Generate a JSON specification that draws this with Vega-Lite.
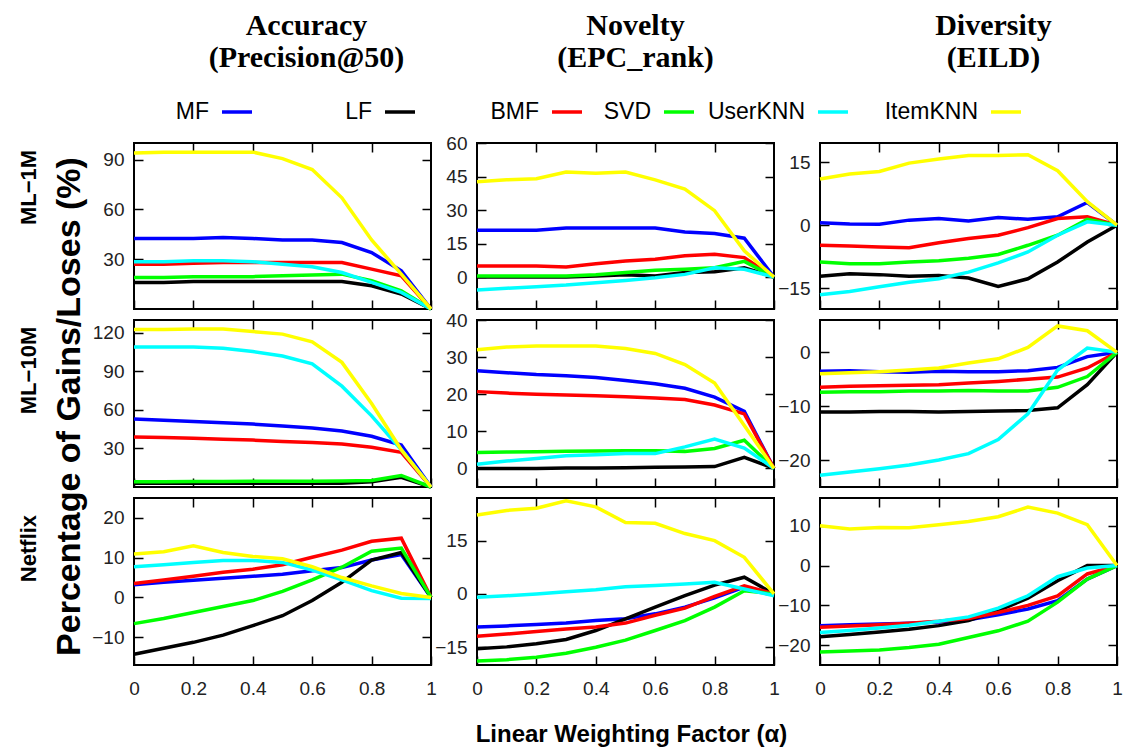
{
"$schema": "https://vega.github.io/schema/vega-lite/v6.json",
"background": "white",
"padding": {"left": 16, "top": 11, "right": 5, "bottom": 5},
"config": {
 "view": {"stroke": "#000", "strokeWidth": 2},
 "axis": {"domain": false, "grid": false, "tickSize": -9, "tickWidth": 1.5, "tickColor": "#000", "labelFont": "Liberation Sans", "labelFontSize": 19, "labelColor": "#222", "titleFont": "Liberation Sans", "titleFontWeight": "bold", "titleColor": "#000"},
 "axisX": {"labelPadding": 23},
 "axisY": {"labelPadding": 19},
 "title": {"font": "Liberation Serif", "fontSize": 30, "fontWeight": "bold", "color": "#000"}
},
"datasets": {
 "leg1": [{"s":"MF"},{"s":"LF"}],
 "leg2": [{"s":"BMF"},{"s":"SVD"}],
 "leg3": [{"s":"UserKNN"},{"s":"ItemKNN"}],
 "a1": [
{"s":"MF","x":0,"y":42.5},{"s":"MF","x":0.1,"y":42.5},{"s":"MF","x":0.2,"y":42.5},{"s":"MF","x":0.3,"y":43},{"s":"MF","x":0.4,"y":42.5},{"s":"MF","x":0.5,"y":41.5},{"s":"MF","x":0.6,"y":41.5},{"s":"MF","x":0.7,"y":40},{"s":"MF","x":0.8,"y":34},{"s":"MF","x":0.9,"y":23},{"s":"MF","x":1,"y":0},
{"s":"LF","x":0,"y":16},{"s":"LF","x":0.1,"y":16},{"s":"LF","x":0.2,"y":16.5},{"s":"LF","x":0.3,"y":16.5},{"s":"LF","x":0.4,"y":16.5},{"s":"LF","x":0.5,"y":16.5},{"s":"LF","x":0.6,"y":16.5},{"s":"LF","x":0.7,"y":16.5},{"s":"LF","x":0.8,"y":14},{"s":"LF","x":0.9,"y":9},{"s":"LF","x":1,"y":0},
{"s":"BMF","x":0,"y":27},{"s":"BMF","x":0.1,"y":27},{"s":"BMF","x":0.2,"y":27.5},{"s":"BMF","x":0.3,"y":28},{"s":"BMF","x":0.4,"y":28},{"s":"BMF","x":0.5,"y":28},{"s":"BMF","x":0.6,"y":28},{"s":"BMF","x":0.7,"y":28},{"s":"BMF","x":0.8,"y":24},{"s":"BMF","x":0.9,"y":20},{"s":"BMF","x":1,"y":0},
{"s":"SVD","x":0,"y":19},{"s":"SVD","x":0.1,"y":19},{"s":"SVD","x":0.2,"y":19.5},{"s":"SVD","x":0.3,"y":19.5},{"s":"SVD","x":0.4,"y":19.5},{"s":"SVD","x":0.5,"y":20},{"s":"SVD","x":0.6,"y":20.5},{"s":"SVD","x":0.7,"y":21},{"s":"SVD","x":0.8,"y":17},{"s":"SVD","x":0.9,"y":11},{"s":"SVD","x":1,"y":0},
{"s":"UserKNN","x":0,"y":28.5},{"s":"UserKNN","x":0.1,"y":28.5},{"s":"UserKNN","x":0.2,"y":29},{"s":"UserKNN","x":0.3,"y":29},{"s":"UserKNN","x":0.4,"y":28.5},{"s":"UserKNN","x":0.5,"y":27},{"s":"UserKNN","x":0.6,"y":25.5},{"s":"UserKNN","x":0.7,"y":22},{"s":"UserKNN","x":0.8,"y":16},{"s":"UserKNN","x":0.9,"y":10},{"s":"UserKNN","x":1,"y":0},
{"s":"ItemKNN","x":0,"y":94},{"s":"ItemKNN","x":0.1,"y":94.5},{"s":"ItemKNN","x":0.2,"y":94.5},{"s":"ItemKNN","x":0.3,"y":94.5},{"s":"ItemKNN","x":0.4,"y":94.5},{"s":"ItemKNN","x":0.5,"y":90.6},{"s":"ItemKNN","x":0.6,"y":84},{"s":"ItemKNN","x":0.7,"y":67},{"s":"ItemKNN","x":0.8,"y":41.6},{"s":"ItemKNN","x":0.9,"y":21},{"s":"ItemKNN","x":1,"y":0}
 ],
 "n1": [
{"s":"MF","x":0,"y":21},{"s":"MF","x":0.1,"y":21},{"s":"MF","x":0.2,"y":21},{"s":"MF","x":0.3,"y":22},{"s":"MF","x":0.4,"y":22},{"s":"MF","x":0.5,"y":22},{"s":"MF","x":0.6,"y":22},{"s":"MF","x":0.7,"y":20.2},{"s":"MF","x":0.8,"y":19.5},{"s":"MF","x":0.9,"y":17.4},{"s":"MF","x":1,"y":0},
{"s":"LF","x":0,"y":0},{"s":"LF","x":0.1,"y":0},{"s":"LF","x":0.2,"y":0},{"s":"LF","x":0.3,"y":0},{"s":"LF","x":0.4,"y":0.5},{"s":"LF","x":0.5,"y":1},{"s":"LF","x":0.6,"y":0.5},{"s":"LF","x":0.7,"y":2},{"s":"LF","x":0.8,"y":2.4},{"s":"LF","x":0.9,"y":4.2},{"s":"LF","x":1,"y":0},
{"s":"BMF","x":0,"y":5},{"s":"BMF","x":0.1,"y":5},{"s":"BMF","x":0.2,"y":5},{"s":"BMF","x":0.3,"y":4.5},{"s":"BMF","x":0.4,"y":6},{"s":"BMF","x":0.5,"y":7.2},{"s":"BMF","x":0.6,"y":8},{"s":"BMF","x":0.7,"y":9.5},{"s":"BMF","x":0.8,"y":10.2},{"s":"BMF","x":0.9,"y":8.7},{"s":"BMF","x":1,"y":0},
{"s":"SVD","x":0,"y":0.5},{"s":"SVD","x":0.1,"y":0.5},{"s":"SVD","x":0.2,"y":0.5},{"s":"SVD","x":0.3,"y":0.5},{"s":"SVD","x":0.4,"y":1},{"s":"SVD","x":0.5,"y":2},{"s":"SVD","x":0.6,"y":3},{"s":"SVD","x":0.7,"y":3.5},{"s":"SVD","x":0.8,"y":4.2},{"s":"SVD","x":0.9,"y":7},{"s":"SVD","x":1,"y":0},
{"s":"UserKNN","x":0,"y":-5.8},{"s":"UserKNN","x":0.1,"y":-5},{"s":"UserKNN","x":0.2,"y":-4.3},{"s":"UserKNN","x":0.3,"y":-3.6},{"s":"UserKNN","x":0.4,"y":-2.5},{"s":"UserKNN","x":0.5,"y":-1.5},{"s":"UserKNN","x":0.6,"y":-0.3},{"s":"UserKNN","x":0.7,"y":1.2},{"s":"UserKNN","x":0.8,"y":4.2},{"s":"UserKNN","x":0.9,"y":3.5},{"s":"UserKNN","x":1,"y":0},
{"s":"ItemKNN","x":0,"y":42.7},{"s":"ItemKNN","x":0.1,"y":43.5},{"s":"ItemKNN","x":0.2,"y":44},{"s":"ItemKNN","x":0.3,"y":47},{"s":"ItemKNN","x":0.4,"y":46.5},{"s":"ItemKNN","x":0.5,"y":47},{"s":"ItemKNN","x":0.6,"y":43.5},{"s":"ItemKNN","x":0.7,"y":39.4},{"s":"ItemKNN","x":0.8,"y":29.7},{"s":"ItemKNN","x":0.9,"y":11.7},{"s":"ItemKNN","x":1,"y":0}
 ],
 "d1": [
{"s":"MF","x":0,"y":0.6},{"s":"MF","x":0.1,"y":0.3},{"s":"MF","x":0.2,"y":0.2},{"s":"MF","x":0.3,"y":1.2},{"s":"MF","x":0.4,"y":1.6},{"s":"MF","x":0.5,"y":1},{"s":"MF","x":0.6,"y":1.8},{"s":"MF","x":0.7,"y":1.4},{"s":"MF","x":0.8,"y":2},{"s":"MF","x":0.9,"y":5.4},{"s":"MF","x":1,"y":0},
{"s":"LF","x":0,"y":-12.2},{"s":"LF","x":0.1,"y":-11.6},{"s":"LF","x":0.2,"y":-11.8},{"s":"LF","x":0.3,"y":-12.2},{"s":"LF","x":0.4,"y":-12},{"s":"LF","x":0.5,"y":-12.6},{"s":"LF","x":0.6,"y":-14.6},{"s":"LF","x":0.7,"y":-12.8},{"s":"LF","x":0.8,"y":-8.8},{"s":"LF","x":0.9,"y":-4},{"s":"LF","x":1,"y":0},
{"s":"BMF","x":0,"y":-4.8},{"s":"BMF","x":0.1,"y":-5},{"s":"BMF","x":0.2,"y":-5.2},{"s":"BMF","x":0.3,"y":-5.4},{"s":"BMF","x":0.4,"y":-4.2},{"s":"BMF","x":0.5,"y":-3.2},{"s":"BMF","x":0.6,"y":-2.4},{"s":"BMF","x":0.7,"y":-0.6},{"s":"BMF","x":0.8,"y":1.6},{"s":"BMF","x":0.9,"y":2},{"s":"BMF","x":1,"y":0},
{"s":"SVD","x":0,"y":-8.8},{"s":"SVD","x":0.1,"y":-9.2},{"s":"SVD","x":0.2,"y":-9.2},{"s":"SVD","x":0.3,"y":-8.8},{"s":"SVD","x":0.4,"y":-8.5},{"s":"SVD","x":0.5,"y":-7.9},{"s":"SVD","x":0.6,"y":-7},{"s":"SVD","x":0.7,"y":-4.8},{"s":"SVD","x":0.8,"y":-2.4},{"s":"SVD","x":0.9,"y":1.4},{"s":"SVD","x":1,"y":0},
{"s":"UserKNN","x":0,"y":-16.6},{"s":"UserKNN","x":0.1,"y":-15.8},{"s":"UserKNN","x":0.2,"y":-14.7},{"s":"UserKNN","x":0.3,"y":-13.6},{"s":"UserKNN","x":0.4,"y":-12.8},{"s":"UserKNN","x":0.5,"y":-11.2},{"s":"UserKNN","x":0.6,"y":-9},{"s":"UserKNN","x":0.7,"y":-6.4},{"s":"UserKNN","x":0.8,"y":-2.4},{"s":"UserKNN","x":0.9,"y":0.8},{"s":"UserKNN","x":1,"y":0},
{"s":"ItemKNN","x":0,"y":11},{"s":"ItemKNN","x":0.1,"y":12.2},{"s":"ItemKNN","x":0.2,"y":12.8},{"s":"ItemKNN","x":0.3,"y":14.8},{"s":"ItemKNN","x":0.4,"y":15.8},{"s":"ItemKNN","x":0.5,"y":16.6},{"s":"ItemKNN","x":0.6,"y":16.6},{"s":"ItemKNN","x":0.7,"y":16.8},{"s":"ItemKNN","x":0.8,"y":13},{"s":"ItemKNN","x":0.9,"y":5.6},{"s":"ItemKNN","x":1,"y":0}
 ],
 "a10": [
{"s":"MF","x":0,"y":53},{"s":"MF","x":0.1,"y":52},{"s":"MF","x":0.2,"y":51},{"s":"MF","x":0.3,"y":50},{"s":"MF","x":0.4,"y":49},{"s":"MF","x":0.5,"y":47.5},{"s":"MF","x":0.6,"y":46},{"s":"MF","x":0.7,"y":43.6},{"s":"MF","x":0.8,"y":39.5},{"s":"MF","x":0.9,"y":32.6},{"s":"MF","x":1,"y":0},
{"s":"LF","x":0,"y":3},{"s":"LF","x":0.1,"y":3},{"s":"LF","x":0.2,"y":3},{"s":"LF","x":0.3,"y":3},{"s":"LF","x":0.4,"y":3},{"s":"LF","x":0.5,"y":3},{"s":"LF","x":0.6,"y":3},{"s":"LF","x":0.7,"y":3},{"s":"LF","x":0.8,"y":4},{"s":"LF","x":0.9,"y":7.5},{"s":"LF","x":1,"y":0},
{"s":"BMF","x":0,"y":39},{"s":"BMF","x":0.1,"y":38.5},{"s":"BMF","x":0.2,"y":38},{"s":"BMF","x":0.3,"y":37.2},{"s":"BMF","x":0.4,"y":36.5},{"s":"BMF","x":0.5,"y":35.5},{"s":"BMF","x":0.6,"y":34.6},{"s":"BMF","x":0.7,"y":33.5},{"s":"BMF","x":0.8,"y":31},{"s":"BMF","x":0.9,"y":27},{"s":"BMF","x":1,"y":0},
{"s":"SVD","x":0,"y":4},{"s":"SVD","x":0.1,"y":4},{"s":"SVD","x":0.2,"y":4.2},{"s":"SVD","x":0.3,"y":4.3},{"s":"SVD","x":0.4,"y":4.5},{"s":"SVD","x":0.5,"y":4.5},{"s":"SVD","x":0.6,"y":4.5},{"s":"SVD","x":0.7,"y":4.6},{"s":"SVD","x":0.8,"y":5},{"s":"SVD","x":0.9,"y":9},{"s":"SVD","x":1,"y":0},
{"s":"UserKNN","x":0,"y":109},{"s":"UserKNN","x":0.1,"y":109},{"s":"UserKNN","x":0.2,"y":109},{"s":"UserKNN","x":0.3,"y":108},{"s":"UserKNN","x":0.4,"y":105.4},{"s":"UserKNN","x":0.5,"y":102},{"s":"UserKNN","x":0.6,"y":95.8},{"s":"UserKNN","x":0.7,"y":78.5},{"s":"UserKNN","x":0.8,"y":55.4},{"s":"UserKNN","x":0.9,"y":29},{"s":"UserKNN","x":1,"y":0},
{"s":"ItemKNN","x":0,"y":122.6},{"s":"ItemKNN","x":0.1,"y":122.6},{"s":"ItemKNN","x":0.2,"y":123},{"s":"ItemKNN","x":0.3,"y":123},{"s":"ItemKNN","x":0.4,"y":121},{"s":"ItemKNN","x":0.5,"y":119},{"s":"ItemKNN","x":0.6,"y":113},{"s":"ItemKNN","x":0.7,"y":97},{"s":"ItemKNN","x":0.8,"y":65},{"s":"ItemKNN","x":0.9,"y":29},{"s":"ItemKNN","x":1,"y":0}
 ],
 "n10": [
{"s":"MF","x":0,"y":26.3},{"s":"MF","x":0.1,"y":25.8},{"s":"MF","x":0.2,"y":25.3},{"s":"MF","x":0.3,"y":25},{"s":"MF","x":0.4,"y":24.5},{"s":"MF","x":0.5,"y":23.7},{"s":"MF","x":0.6,"y":22.8},{"s":"MF","x":0.7,"y":21.6},{"s":"MF","x":0.8,"y":19.2},{"s":"MF","x":0.9,"y":15.4},{"s":"MF","x":1,"y":0},
{"s":"LF","x":0,"y":0},{"s":"LF","x":0.1,"y":0},{"s":"LF","x":0.2,"y":0},{"s":"LF","x":0.3,"y":0.1},{"s":"LF","x":0.4,"y":0.1},{"s":"LF","x":0.5,"y":0.2},{"s":"LF","x":0.6,"y":0.3},{"s":"LF","x":0.7,"y":0.4},{"s":"LF","x":0.8,"y":0.5},{"s":"LF","x":0.9,"y":3},{"s":"LF","x":1,"y":0},
{"s":"BMF","x":0,"y":20.7},{"s":"BMF","x":0.1,"y":20.3},{"s":"BMF","x":0.2,"y":20},{"s":"BMF","x":0.3,"y":19.8},{"s":"BMF","x":0.4,"y":19.6},{"s":"BMF","x":0.5,"y":19.3},{"s":"BMF","x":0.6,"y":19},{"s":"BMF","x":0.7,"y":18.6},{"s":"BMF","x":0.8,"y":17.1},{"s":"BMF","x":0.9,"y":14.7},{"s":"BMF","x":1,"y":0},
{"s":"SVD","x":0,"y":4.3},{"s":"SVD","x":0.1,"y":4.4},{"s":"SVD","x":0.2,"y":4.5},{"s":"SVD","x":0.3,"y":4.6},{"s":"SVD","x":0.4,"y":4.7},{"s":"SVD","x":0.5,"y":4.8},{"s":"SVD","x":0.6,"y":4.8},{"s":"SVD","x":0.7,"y":4.6},{"s":"SVD","x":0.8,"y":5.4},{"s":"SVD","x":0.9,"y":7.6},{"s":"SVD","x":1,"y":0},
{"s":"UserKNN","x":0,"y":1.1},{"s":"UserKNN","x":0.1,"y":2},{"s":"UserKNN","x":0.2,"y":2.7},{"s":"UserKNN","x":0.3,"y":3.4},{"s":"UserKNN","x":0.4,"y":3.7},{"s":"UserKNN","x":0.5,"y":4},{"s":"UserKNN","x":0.6,"y":4},{"s":"UserKNN","x":0.7,"y":5.8},{"s":"UserKNN","x":0.8,"y":7.9},{"s":"UserKNN","x":0.9,"y":5.5},{"s":"UserKNN","x":1,"y":0},
{"s":"ItemKNN","x":0,"y":32},{"s":"ItemKNN","x":0.1,"y":32.7},{"s":"ItemKNN","x":0.2,"y":33},{"s":"ItemKNN","x":0.3,"y":33},{"s":"ItemKNN","x":0.4,"y":33},{"s":"ItemKNN","x":0.5,"y":32.3},{"s":"ItemKNN","x":0.6,"y":31},{"s":"ItemKNN","x":0.7,"y":28},{"s":"ItemKNN","x":0.8,"y":23},{"s":"ItemKNN","x":0.9,"y":11.6},{"s":"ItemKNN","x":1,"y":0}
 ],
 "d10": [
{"s":"MF","x":0,"y":-3.5},{"s":"MF","x":0.1,"y":-3.4},{"s":"MF","x":0.2,"y":-3.6},{"s":"MF","x":0.3,"y":-3.7},{"s":"MF","x":0.4,"y":-3.5},{"s":"MF","x":0.5,"y":-3.6},{"s":"MF","x":0.6,"y":-3.6},{"s":"MF","x":0.7,"y":-3.4},{"s":"MF","x":0.8,"y":-2.8},{"s":"MF","x":0.9,"y":-0.8},{"s":"MF","x":1,"y":0},
{"s":"LF","x":0,"y":-11.1},{"s":"LF","x":0.1,"y":-11.1},{"s":"LF","x":0.2,"y":-11},{"s":"LF","x":0.3,"y":-11},{"s":"LF","x":0.4,"y":-11.1},{"s":"LF","x":0.5,"y":-11},{"s":"LF","x":0.6,"y":-10.9},{"s":"LF","x":0.7,"y":-10.8},{"s":"LF","x":0.8,"y":-10.3},{"s":"LF","x":0.9,"y":-6},{"s":"LF","x":1,"y":0},
{"s":"BMF","x":0,"y":-6.5},{"s":"BMF","x":0.1,"y":-6.3},{"s":"BMF","x":0.2,"y":-6.2},{"s":"BMF","x":0.3,"y":-6.1},{"s":"BMF","x":0.4,"y":-6},{"s":"BMF","x":0.5,"y":-5.7},{"s":"BMF","x":0.6,"y":-5.4},{"s":"BMF","x":0.7,"y":-5},{"s":"BMF","x":0.8,"y":-4.6},{"s":"BMF","x":0.9,"y":-2.9},{"s":"BMF","x":1,"y":0},
{"s":"SVD","x":0,"y":-7.4},{"s":"SVD","x":0.1,"y":-7.3},{"s":"SVD","x":0.2,"y":-7.3},{"s":"SVD","x":0.3,"y":-7.2},{"s":"SVD","x":0.4,"y":-7.2},{"s":"SVD","x":0.5,"y":-7.1},{"s":"SVD","x":0.6,"y":-7.2},{"s":"SVD","x":0.7,"y":-7.2},{"s":"SVD","x":0.8,"y":-6.5},{"s":"SVD","x":0.9,"y":-4.5},{"s":"SVD","x":1,"y":0},
{"s":"UserKNN","x":0,"y":-22.8},{"s":"UserKNN","x":0.1,"y":-22.2},{"s":"UserKNN","x":0.2,"y":-21.6},{"s":"UserKNN","x":0.3,"y":-20.9},{"s":"UserKNN","x":0.4,"y":-20},{"s":"UserKNN","x":0.5,"y":-18.8},{"s":"UserKNN","x":0.6,"y":-16.2},{"s":"UserKNN","x":0.7,"y":-11.4},{"s":"UserKNN","x":0.8,"y":-3.3},{"s":"UserKNN","x":0.9,"y":0.8},{"s":"UserKNN","x":1,"y":0},
{"s":"ItemKNN","x":0,"y":-4},{"s":"ItemKNN","x":0.1,"y":-3.8},{"s":"ItemKNN","x":0.2,"y":-3.6},{"s":"ItemKNN","x":0.3,"y":-3.3},{"s":"ItemKNN","x":0.4,"y":-2.9},{"s":"ItemKNN","x":0.5,"y":-2},{"s":"ItemKNN","x":0.6,"y":-1.2},{"s":"ItemKNN","x":0.7,"y":0.9},{"s":"ItemKNN","x":0.8,"y":4.9},{"s":"ItemKNN","x":0.9,"y":4},{"s":"ItemKNN","x":1,"y":0}
 ],
 "an": [
{"s":"MF","x":0,"y":3.2},{"s":"MF","x":0.1,"y":3.8},{"s":"MF","x":0.2,"y":4.3},{"s":"MF","x":0.3,"y":4.8},{"s":"MF","x":0.4,"y":5.3},{"s":"MF","x":0.5,"y":5.8},{"s":"MF","x":0.6,"y":6.7},{"s":"MF","x":0.7,"y":7.5},{"s":"MF","x":0.8,"y":9.4},{"s":"MF","x":0.9,"y":10.8},{"s":"MF","x":1,"y":0},
{"s":"LF","x":0,"y":-14.3},{"s":"LF","x":0.1,"y":-12.8},{"s":"LF","x":0.2,"y":-11.3},{"s":"LF","x":0.3,"y":-9.5},{"s":"LF","x":0.4,"y":-7.1},{"s":"LF","x":0.5,"y":-4.6},{"s":"LF","x":0.6,"y":-0.8},{"s":"LF","x":0.7,"y":3.8},{"s":"LF","x":0.8,"y":9.4},{"s":"LF","x":0.9,"y":11.3},{"s":"LF","x":1,"y":0},
{"s":"BMF","x":0,"y":3.5},{"s":"BMF","x":0.1,"y":4.4},{"s":"BMF","x":0.2,"y":5.3},{"s":"BMF","x":0.3,"y":6.3},{"s":"BMF","x":0.4,"y":7.1},{"s":"BMF","x":0.5,"y":8.2},{"s":"BMF","x":0.6,"y":10.1},{"s":"BMF","x":0.7,"y":11.9},{"s":"BMF","x":0.8,"y":14.1},{"s":"BMF","x":0.9,"y":14.9},{"s":"BMF","x":1,"y":0},
{"s":"SVD","x":0,"y":-6.6},{"s":"SVD","x":0.1,"y":-5.3},{"s":"SVD","x":0.2,"y":-3.8},{"s":"SVD","x":0.3,"y":-2.3},{"s":"SVD","x":0.4,"y":-0.8},{"s":"SVD","x":0.5,"y":1.5},{"s":"SVD","x":0.6,"y":4.4},{"s":"SVD","x":0.7,"y":7.6},{"s":"SVD","x":0.8,"y":11.6},{"s":"SVD","x":0.9,"y":12.4},{"s":"SVD","x":1,"y":0},
{"s":"UserKNN","x":0,"y":7.7},{"s":"UserKNN","x":0.1,"y":8.2},{"s":"UserKNN","x":0.2,"y":8.8},{"s":"UserKNN","x":0.3,"y":9.3},{"s":"UserKNN","x":0.4,"y":9.3},{"s":"UserKNN","x":0.5,"y":8.8},{"s":"UserKNN","x":0.6,"y":6.9},{"s":"UserKNN","x":0.7,"y":4.4},{"s":"UserKNN","x":0.8,"y":1.7},{"s":"UserKNN","x":0.9,"y":-0.2},{"s":"UserKNN","x":1,"y":-0.3},
{"s":"ItemKNN","x":0,"y":10.9},{"s":"ItemKNN","x":0.1,"y":11.5},{"s":"ItemKNN","x":0.2,"y":13},{"s":"ItemKNN","x":0.3,"y":11.3},{"s":"ItemKNN","x":0.4,"y":10.3},{"s":"ItemKNN","x":0.5,"y":9.7},{"s":"ItemKNN","x":0.6,"y":7.7},{"s":"ItemKNN","x":0.7,"y":5},{"s":"ItemKNN","x":0.8,"y":2.9},{"s":"ItemKNN","x":0.9,"y":1},{"s":"ItemKNN","x":1,"y":0}
 ],
 "nn": [
{"s":"MF","x":0,"y":-9.3},{"s":"MF","x":0.1,"y":-9},{"s":"MF","x":0.2,"y":-8.6},{"s":"MF","x":0.3,"y":-8.2},{"s":"MF","x":0.4,"y":-7.5},{"s":"MF","x":0.5,"y":-7},{"s":"MF","x":0.6,"y":-5.6},{"s":"MF","x":0.7,"y":-3.7},{"s":"MF","x":0.8,"y":-1.1},{"s":"MF","x":0.9,"y":1.9},{"s":"MF","x":1,"y":0},
{"s":"LF","x":0,"y":-15.4},{"s":"LF","x":0.1,"y":-14.9},{"s":"LF","x":0.2,"y":-14},{"s":"LF","x":0.3,"y":-12.8},{"s":"LF","x":0.4,"y":-10.3},{"s":"LF","x":0.5,"y":-7},{"s":"LF","x":0.6,"y":-3.7},{"s":"LF","x":0.7,"y":-0.5},{"s":"LF","x":0.8,"y":2.5},{"s":"LF","x":0.9,"y":4.7},{"s":"LF","x":1,"y":0},
{"s":"BMF","x":0,"y":-11.9},{"s":"BMF","x":0.1,"y":-11.3},{"s":"BMF","x":0.2,"y":-10.6},{"s":"BMF","x":0.3,"y":-9.9},{"s":"BMF","x":0.4,"y":-9.3},{"s":"BMF","x":0.5,"y":-8.2},{"s":"BMF","x":0.6,"y":-6},{"s":"BMF","x":0.7,"y":-4},{"s":"BMF","x":0.8,"y":-0.7},{"s":"BMF","x":0.9,"y":2.3},{"s":"BMF","x":1,"y":0},
{"s":"SVD","x":0,"y":-18.9},{"s":"SVD","x":0.1,"y":-18.5},{"s":"SVD","x":0.2,"y":-17.8},{"s":"SVD","x":0.3,"y":-16.7},{"s":"SVD","x":0.4,"y":-15},{"s":"SVD","x":0.5,"y":-13},{"s":"SVD","x":0.6,"y":-10.3},{"s":"SVD","x":0.7,"y":-7.5},{"s":"SVD","x":0.8,"y":-3.7},{"s":"SVD","x":0.9,"y":0.9},{"s":"SVD","x":1,"y":0},
{"s":"UserKNN","x":0,"y":-0.9},{"s":"UserKNN","x":0.1,"y":-0.5},{"s":"UserKNN","x":0.2,"y":0},{"s":"UserKNN","x":0.3,"y":0.6},{"s":"UserKNN","x":0.4,"y":1.2},{"s":"UserKNN","x":0.5,"y":2},{"s":"UserKNN","x":0.6,"y":2.4},{"s":"UserKNN","x":0.7,"y":2.8},{"s":"UserKNN","x":0.8,"y":3.3},{"s":"UserKNN","x":0.9,"y":1.4},{"s":"UserKNN","x":1,"y":-0.5},
{"s":"ItemKNN","x":0,"y":22.2},{"s":"ItemKNN","x":0.1,"y":23.5},{"s":"ItemKNN","x":0.2,"y":24.1},{"s":"ItemKNN","x":0.3,"y":26.2},{"s":"ItemKNN","x":0.4,"y":24.5},{"s":"ItemKNN","x":0.5,"y":20.1},{"s":"ItemKNN","x":0.6,"y":19.9},{"s":"ItemKNN","x":0.7,"y":17},{"s":"ItemKNN","x":0.8,"y":15},{"s":"ItemKNN","x":0.9,"y":10.3},{"s":"ItemKNN","x":1,"y":0}
 ],
 "dn": [
{"s":"MF","x":0,"y":-15.1},{"s":"MF","x":0.1,"y":-14.9},{"s":"MF","x":0.2,"y":-14.7},{"s":"MF","x":0.3,"y":-14.5},{"s":"MF","x":0.4,"y":-14.2},{"s":"MF","x":0.5,"y":-13.6},{"s":"MF","x":0.6,"y":-12.4},{"s":"MF","x":0.7,"y":-10.9},{"s":"MF","x":0.8,"y":-8.8},{"s":"MF","x":0.9,"y":-3.4},{"s":"MF","x":1,"y":0},
{"s":"LF","x":0,"y":-17.9},{"s":"LF","x":0.1,"y":-17.3},{"s":"LF","x":0.2,"y":-16.7},{"s":"LF","x":0.3,"y":-16},{"s":"LF","x":0.4,"y":-15.1},{"s":"LF","x":0.5,"y":-13.8},{"s":"LF","x":0.6,"y":-11.3},{"s":"LF","x":0.7,"y":-8.2},{"s":"LF","x":0.8,"y":-3.8},{"s":"LF","x":0.9,"y":0},{"s":"LF","x":1,"y":0},
{"s":"BMF","x":0,"y":-15.5},{"s":"BMF","x":0.1,"y":-15.2},{"s":"BMF","x":0.2,"y":-14.9},{"s":"BMF","x":0.3,"y":-14.5},{"s":"BMF","x":0.4,"y":-14},{"s":"BMF","x":0.5,"y":-13.3},{"s":"BMF","x":0.6,"y":-11.8},{"s":"BMF","x":0.7,"y":-10},{"s":"BMF","x":0.8,"y":-7.6},{"s":"BMF","x":0.9,"y":-2.1},{"s":"BMF","x":1,"y":0},
{"s":"SVD","x":0,"y":-21.7},{"s":"SVD","x":0.1,"y":-21.5},{"s":"SVD","x":0.2,"y":-21.2},{"s":"SVD","x":0.3,"y":-20.6},{"s":"SVD","x":0.4,"y":-19.8},{"s":"SVD","x":0.5,"y":-18.1},{"s":"SVD","x":0.6,"y":-16.4},{"s":"SVD","x":0.7,"y":-14},{"s":"SVD","x":0.8,"y":-9.2},{"s":"SVD","x":0.9,"y":-3.4},{"s":"SVD","x":1,"y":0},
{"s":"UserKNN","x":0,"y":-16.8},{"s":"UserKNN","x":0.1,"y":-16.3},{"s":"UserKNN","x":0.2,"y":-15.7},{"s":"UserKNN","x":0.3,"y":-15},{"s":"UserKNN","x":0.4,"y":-14},{"s":"UserKNN","x":0.5,"y":-12.9},{"s":"UserKNN","x":0.6,"y":-10.7},{"s":"UserKNN","x":0.7,"y":-7.6},{"s":"UserKNN","x":0.8,"y":-2.8},{"s":"UserKNN","x":0.9,"y":-0.6},{"s":"UserKNN","x":1,"y":0},
{"s":"ItemKNN","x":0,"y":10},{"s":"ItemKNN","x":0.1,"y":9.2},{"s":"ItemKNN","x":0.2,"y":9.6},{"s":"ItemKNN","x":0.3,"y":9.5},{"s":"ItemKNN","x":0.4,"y":10.3},{"s":"ItemKNN","x":0.5,"y":11.1},{"s":"ItemKNN","x":0.6,"y":12.3},{"s":"ItemKNN","x":0.7,"y":14.7},{"s":"ItemKNN","x":0.8,"y":13.2},{"s":"ItemKNN","x":0.9,"y":10.3},{"s":"ItemKNN","x":1,"y":0}
 ]
},
"columns": 3,
"spacing": {"row": 11, "column": 46},
"bounds": "flush",
"concat": [
 {"width": 297, "height": 40, "view": {"stroke": null}, "data": {"name": "leg1"},
  "title": {"text": ["Accuracy", "(Precision@50)"], "offset": 19, "dx": 24, "lineHeight": 32, "anchor": "middle"},
  "layer": [
   {"mark": {"type": "text", "align": "right", "baseline": "middle", "dx": -6, "fontSize": 23, "font": "Liberation Sans", "color": "#000"},
    "encoding": {"x": {"field": "s", "type": "nominal", "scale": {"type": "point", "padding": 0, "domain": ["MF","LF"], "range": [81, 244]}, "axis": null}, "text": {"field": "s"}}},
   {"mark": {"type": "point", "shape": "stroke", "size": 900, "strokeWidth": 3.5, "xOffset": 22, "opacity": 1},
    "encoding": {"x": {"field": "s", "type": "nominal", "scale": {"type": "point", "padding": 0, "domain": ["MF","LF"], "range": [81, 244]}, "axis": null},
     "color": {"field": "s", "type": "nominal", "scale": {"domain": ["MF","LF","BMF","SVD","UserKNN","ItemKNN"], "range": ["#0000ff","#000000","#ff0000","#00ff00","#00ffff","#ffff00"]}, "legend": null}}}
  ]},
 {"width": 297, "height": 40, "view": {"stroke": null}, "data": {"name": "leg2"},
  "title": {"text": ["Novelty", "(EPC_rank)"], "offset": 19, "dx": 10, "lineHeight": 32, "anchor": "middle"},
  "layer": [
   {"mark": {"type": "text", "align": "right", "baseline": "middle", "dx": -6, "fontSize": 23, "font": "Liberation Sans", "color": "#000"},
    "encoding": {"x": {"field": "s", "type": "nominal", "scale": {"type": "point", "padding": 0, "domain": ["BMF","SVD"], "range": [68, 180]}, "axis": null}, "text": {"field": "s"}}},
   {"mark": {"type": "point", "shape": "stroke", "size": 900, "strokeWidth": 3.5, "xOffset": 22, "opacity": 1},
    "encoding": {"x": {"field": "s", "type": "nominal", "scale": {"type": "point", "padding": 0, "domain": ["BMF","SVD"], "range": [68, 180]}, "axis": null},
     "color": {"field": "s", "type": "nominal", "scale": {"domain": ["MF","LF","BMF","SVD","UserKNN","ItemKNN"], "range": ["#0000ff","#000000","#ff0000","#00ff00","#00ffff","#ffff00"]}, "legend": null}}}
  ]},
 {"width": 297, "height": 40, "view": {"stroke": null}, "data": {"name": "leg3"},
  "title": {"text": ["Diversity", "(EILD)"], "offset": 19, "dx": 25, "lineHeight": 32, "anchor": "middle"},
  "layer": [
   {"mark": {"type": "text", "align": "right", "baseline": "middle", "dx": -6, "fontSize": 23, "font": "Liberation Sans", "color": "#000"},
    "encoding": {"x": {"field": "s", "type": "nominal", "scale": {"type": "point", "padding": 0, "domain": ["UserKNN","ItemKNN"], "range": [-9, 164]}, "axis": null}, "text": {"field": "s"}}},
   {"mark": {"type": "point", "shape": "stroke", "size": 900, "strokeWidth": 3.5, "xOffset": 22, "opacity": 1},
    "encoding": {"x": {"field": "s", "type": "nominal", "scale": {"type": "point", "padding": 0, "domain": ["UserKNN","ItemKNN"], "range": [-9, 164]}, "axis": null},
     "color": {"field": "s", "type": "nominal", "scale": {"domain": ["MF","LF","BMF","SVD","UserKNN","ItemKNN"], "range": ["#0000ff","#000000","#ff0000","#00ff00","#00ffff","#ffff00"]}, "legend": null}}}
  ]},
 {"width": 297, "height": 166, "data": {"name": "a1"},
  "layer": [
   {"mark": {"type": "line", "strokeWidth": 3.5},
    "encoding": {
     "x": {"field": "x", "type": "quantitative", "scale": {"domain": [0, 1]}, "axis": {"values": [0,0.2,0.4,0.6,0.8,1], "labels": false, "title": null}},
     "y": {"field": "y", "type": "quantitative", "scale": {"domain": [0, 100], "nice": false, "zero": false}, "axis": {"values": [30,60,90], "title": "ML−1M", "titleX": -106, "titleY": 44, "titleAngle": -90, "titleAlign": "center", "titleBaseline": "middle", "titleFontSize": 22}},
     "color": {"field": "s", "type": "nominal", "scale": {"domain": ["MF","LF","BMF","SVD","UserKNN","ItemKNN"], "range": ["#0000ff","#000000","#ff0000","#00ff00","#00ffff","#ffff00"]}, "legend": null}}},
   {"mark": {"type": "point", "opacity": 0},
    "encoding": {
     "x": {"field": "x", "type": "quantitative", "scale": {"domain": [0, 1]}, "axis": {"orient": "top", "values": [0.2,0.4,0.6,0.8], "labels": false, "title": null}},
     "y": {"field": "y", "type": "quantitative", "scale": {"domain": [0, 100], "nice": false, "zero": false}, "axis": {"orient": "right", "values": [30,60,90], "labels": false, "title": null}}}}
  ],
  "resolve": {"axis": {"x": "independent", "y": "independent"}}},
 {"width": 297, "height": 166, "data": {"name": "n1"},
  "layer": [
   {"mark": {"type": "line", "strokeWidth": 3.5},
    "encoding": {
     "x": {"field": "x", "type": "quantitative", "scale": {"domain": [0, 1]}, "axis": {"values": [0,0.2,0.4,0.6,0.8,1], "labels": false, "title": null}},
     "y": {"field": "y", "type": "quantitative", "scale": {"domain": [-14.3, 60], "nice": false, "zero": false}, "axis": {"values": [0,15,30,45,60], "title": null}},
     "color": {"field": "s", "type": "nominal", "scale": {"domain": ["MF","LF","BMF","SVD","UserKNN","ItemKNN"], "range": ["#0000ff","#000000","#ff0000","#00ff00","#00ffff","#ffff00"]}, "legend": null}}},
   {"mark": {"type": "point", "opacity": 0},
    "encoding": {
     "x": {"field": "x", "type": "quantitative", "scale": {"domain": [0, 1]}, "axis": {"orient": "top", "values": [0.2,0.4,0.6,0.8], "labels": false, "title": null}},
     "y": {"field": "y", "type": "quantitative", "scale": {"domain": [-14.3, 60], "nice": false, "zero": false}, "axis": {"orient": "right", "values": [0,15,30,45,60], "labels": false, "title": null}}}}
  ],
  "resolve": {"axis": {"x": "independent", "y": "independent"}}},
 {"width": 297, "height": 166, "data": {"name": "d1"},
  "layer": [
   {"mark": {"type": "line", "strokeWidth": 3.5},
    "encoding": {
     "x": {"field": "x", "type": "quantitative", "scale": {"domain": [0, 1]}, "axis": {"values": [0,0.2,0.4,0.6,0.8,1], "labels": false, "title": null}},
     "y": {"field": "y", "type": "quantitative", "scale": {"domain": [-20, 19.6], "nice": false, "zero": false}, "axis": {"values": [-15,0,15], "title": null}},
     "color": {"field": "s", "type": "nominal", "scale": {"domain": ["MF","LF","BMF","SVD","UserKNN","ItemKNN"], "range": ["#0000ff","#000000","#ff0000","#00ff00","#00ffff","#ffff00"]}, "legend": null}}},
   {"mark": {"type": "point", "opacity": 0},
    "encoding": {
     "x": {"field": "x", "type": "quantitative", "scale": {"domain": [0, 1]}, "axis": {"orient": "top", "values": [0.2,0.4,0.6,0.8], "labels": false, "title": null}},
     "y": {"field": "y", "type": "quantitative", "scale": {"domain": [-20, 19.6], "nice": false, "zero": false}, "axis": {"orient": "right", "values": [-15,0,15], "labels": false, "title": null}}}}
  ],
  "resolve": {"axis": {"x": "independent", "y": "independent"}}},
 {"width": 297, "height": 167, "data": {"name": "a10"},
  "layer": [
   {"mark": {"type": "line", "strokeWidth": 3.5},
    "encoding": {
     "x": {"field": "x", "type": "quantitative", "scale": {"domain": [0, 1]}, "axis": {"values": [0,0.2,0.4,0.6,0.8,1], "labels": false, "title": null}},
     "y": {"field": "y", "type": "quantitative", "scale": {"domain": [0, 130], "nice": false, "zero": false}, "axis": {"values": [30,60,90,120], "title": "ML−10M", "titleX": -106, "titleY": 50, "titleAngle": -90, "titleAlign": "center", "titleBaseline": "middle", "titleFontSize": 22}},
     "color": {"field": "s", "type": "nominal", "scale": {"domain": ["MF","LF","BMF","SVD","UserKNN","ItemKNN"], "range": ["#0000ff","#000000","#ff0000","#00ff00","#00ffff","#ffff00"]}, "legend": null}}},
   {"mark": {"type": "point", "opacity": 0},
    "encoding": {
     "x": {"field": "x", "type": "quantitative", "scale": {"domain": [0, 1]}, "axis": {"orient": "top", "values": [0.2,0.4,0.6,0.8], "labels": false, "title": null}},
     "y": {"field": "y", "type": "quantitative", "scale": {"domain": [0, 130], "nice": false, "zero": false}, "axis": {"orient": "right", "values": [30,60,90,120], "labels": false, "title": "Percentage of Gains/Loses (%)", "titleX": -362, "titleY": 86, "titleAngle": -90, "titleAlign": "center", "titleBaseline": "middle", "titleFontSize": 34}}}}
  ],
  "resolve": {"axis": {"x": "independent", "y": "independent"}}},
 {"width": 297, "height": 167, "data": {"name": "n10"},
  "layer": [
   {"mark": {"type": "line", "strokeWidth": 3.5},
    "encoding": {
     "x": {"field": "x", "type": "quantitative", "scale": {"domain": [0, 1]}, "axis": {"values": [0,0.2,0.4,0.6,0.8,1], "labels": false, "title": null}},
     "y": {"field": "y", "type": "quantitative", "scale": {"domain": [-5, 40], "nice": false, "zero": false}, "axis": {"values": [0,10,20,30,40], "title": null}},
     "color": {"field": "s", "type": "nominal", "scale": {"domain": ["MF","LF","BMF","SVD","UserKNN","ItemKNN"], "range": ["#0000ff","#000000","#ff0000","#00ff00","#00ffff","#ffff00"]}, "legend": null}}},
   {"mark": {"type": "point", "opacity": 0},
    "encoding": {
     "x": {"field": "x", "type": "quantitative", "scale": {"domain": [0, 1]}, "axis": {"orient": "top", "values": [0.2,0.4,0.6,0.8], "labels": false, "title": null}},
     "y": {"field": "y", "type": "quantitative", "scale": {"domain": [-5, 40], "nice": false, "zero": false}, "axis": {"orient": "right", "values": [0,10,20,30,40], "labels": false, "title": null}}}}
  ],
  "resolve": {"axis": {"x": "independent", "y": "independent"}}},
 {"width": 297, "height": 167, "data": {"name": "d10"},
  "layer": [
   {"mark": {"type": "line", "strokeWidth": 3.5},
    "encoding": {
     "x": {"field": "x", "type": "quantitative", "scale": {"domain": [0, 1]}, "axis": {"values": [0,0.2,0.4,0.6,0.8,1], "labels": false, "title": null}},
     "y": {"field": "y", "type": "quantitative", "scale": {"domain": [-25, 6], "nice": false, "zero": false}, "axis": {"values": [-20,-10,0], "title": null}},
     "color": {"field": "s", "type": "nominal", "scale": {"domain": ["MF","LF","BMF","SVD","UserKNN","ItemKNN"], "range": ["#0000ff","#000000","#ff0000","#00ff00","#00ffff","#ffff00"]}, "legend": null}}},
   {"mark": {"type": "point", "opacity": 0},
    "encoding": {
     "x": {"field": "x", "type": "quantitative", "scale": {"domain": [0, 1]}, "axis": {"orient": "top", "values": [0.2,0.4,0.6,0.8], "labels": false, "title": null}},
     "y": {"field": "y", "type": "quantitative", "scale": {"domain": [-25, 6], "nice": false, "zero": false}, "axis": {"orient": "right", "values": [-20,-10,0], "labels": false, "title": null}}}}
  ],
  "resolve": {"axis": {"x": "independent", "y": "independent"}}},
 {"width": 297, "height": 167, "data": {"name": "an"},
  "layer": [
   {"mark": {"type": "line", "strokeWidth": 3.5},
    "encoding": {
     "x": {"field": "x", "type": "quantitative", "scale": {"domain": [0, 1]}, "axis": {"values": [0,0.2,0.4,0.6,0.8,1], "format": "~g", "labelFlush": false, "title": null}},
     "y": {"field": "y", "type": "quantitative", "scale": {"domain": [-17, 25], "nice": false, "zero": false}, "axis": {"values": [-10,0,10,20], "title": "Netflix", "titleX": -106, "titleY": 50, "titleAngle": -90, "titleAlign": "center", "titleBaseline": "middle", "titleFontSize": 22}},
     "color": {"field": "s", "type": "nominal", "scale": {"domain": ["MF","LF","BMF","SVD","UserKNN","ItemKNN"], "range": ["#0000ff","#000000","#ff0000","#00ff00","#00ffff","#ffff00"]}, "legend": null}}},
   {"mark": {"type": "point", "opacity": 0},
    "encoding": {
     "x": {"field": "x", "type": "quantitative", "scale": {"domain": [0, 1]}, "axis": {"orient": "top", "values": [0.2,0.4,0.6,0.8], "labels": false, "title": null}},
     "y": {"field": "y", "type": "quantitative", "scale": {"domain": [-17, 25], "nice": false, "zero": false}, "axis": {"orient": "right", "values": [-10,0,10,20], "labels": false, "title": null}}}}
  ],
  "resolve": {"axis": {"x": "independent", "y": "independent"}}},
 {"width": 297, "height": 167, "data": {"name": "nn"},
  "layer": [
   {"mark": {"type": "line", "strokeWidth": 3.5},
    "encoding": {
     "x": {"field": "x", "type": "quantitative", "scale": {"domain": [0, 1]}, "axis": {"values": [0,0.2,0.4,0.6,0.8,1], "format": "~g", "labelFlush": false, "title": "Linear Weighting Factor (α)", "titleX": 154, "titleY": 76, "titleAngle": 0, "titleAlign": "center", "titleBaseline": "alphabetic", "titleFontSize": 24}},
     "y": {"field": "y", "type": "quantitative", "scale": {"domain": [-20, 27], "nice": false, "zero": false}, "axis": {"values": [-15,0,15], "title": null}},
     "color": {"field": "s", "type": "nominal", "scale": {"domain": ["MF","LF","BMF","SVD","UserKNN","ItemKNN"], "range": ["#0000ff","#000000","#ff0000","#00ff00","#00ffff","#ffff00"]}, "legend": null}}},
   {"mark": {"type": "point", "opacity": 0},
    "encoding": {
     "x": {"field": "x", "type": "quantitative", "scale": {"domain": [0, 1]}, "axis": {"orient": "top", "values": [0.2,0.4,0.6,0.8], "labels": false, "title": null}},
     "y": {"field": "y", "type": "quantitative", "scale": {"domain": [-20, 27], "nice": false, "zero": false}, "axis": {"orient": "right", "values": [-15,0,15], "labels": false, "title": null}}}}
  ],
  "resolve": {"axis": {"x": "independent", "y": "independent"}}},
 {"width": 297, "height": 167, "data": {"name": "dn"},
  "layer": [
   {"mark": {"type": "line", "strokeWidth": 3.5},
    "encoding": {
     "x": {"field": "x", "type": "quantitative", "scale": {"domain": [0, 1]}, "axis": {"values": [0,0.2,0.4,0.6,0.8,1], "format": "~g", "labelFlush": false, "title": null}},
     "y": {"field": "y", "type": "quantitative", "scale": {"domain": [-25, 17], "nice": false, "zero": false}, "axis": {"values": [-20,-10,0,10], "title": null}},
     "color": {"field": "s", "type": "nominal", "scale": {"domain": ["MF","LF","BMF","SVD","UserKNN","ItemKNN"], "range": ["#0000ff","#000000","#ff0000","#00ff00","#00ffff","#ffff00"]}, "legend": null}}},
   {"mark": {"type": "point", "opacity": 0},
    "encoding": {
     "x": {"field": "x", "type": "quantitative", "scale": {"domain": [0, 1]}, "axis": {"orient": "top", "values": [0.2,0.4,0.6,0.8], "labels": false, "title": null}},
     "y": {"field": "y", "type": "quantitative", "scale": {"domain": [-25, 17], "nice": false, "zero": false}, "axis": {"orient": "right", "values": [-20,-10,0,10], "labels": false, "title": null}}}}
  ],
  "resolve": {"axis": {"x": "independent", "y": "independent"}}}
]
}
